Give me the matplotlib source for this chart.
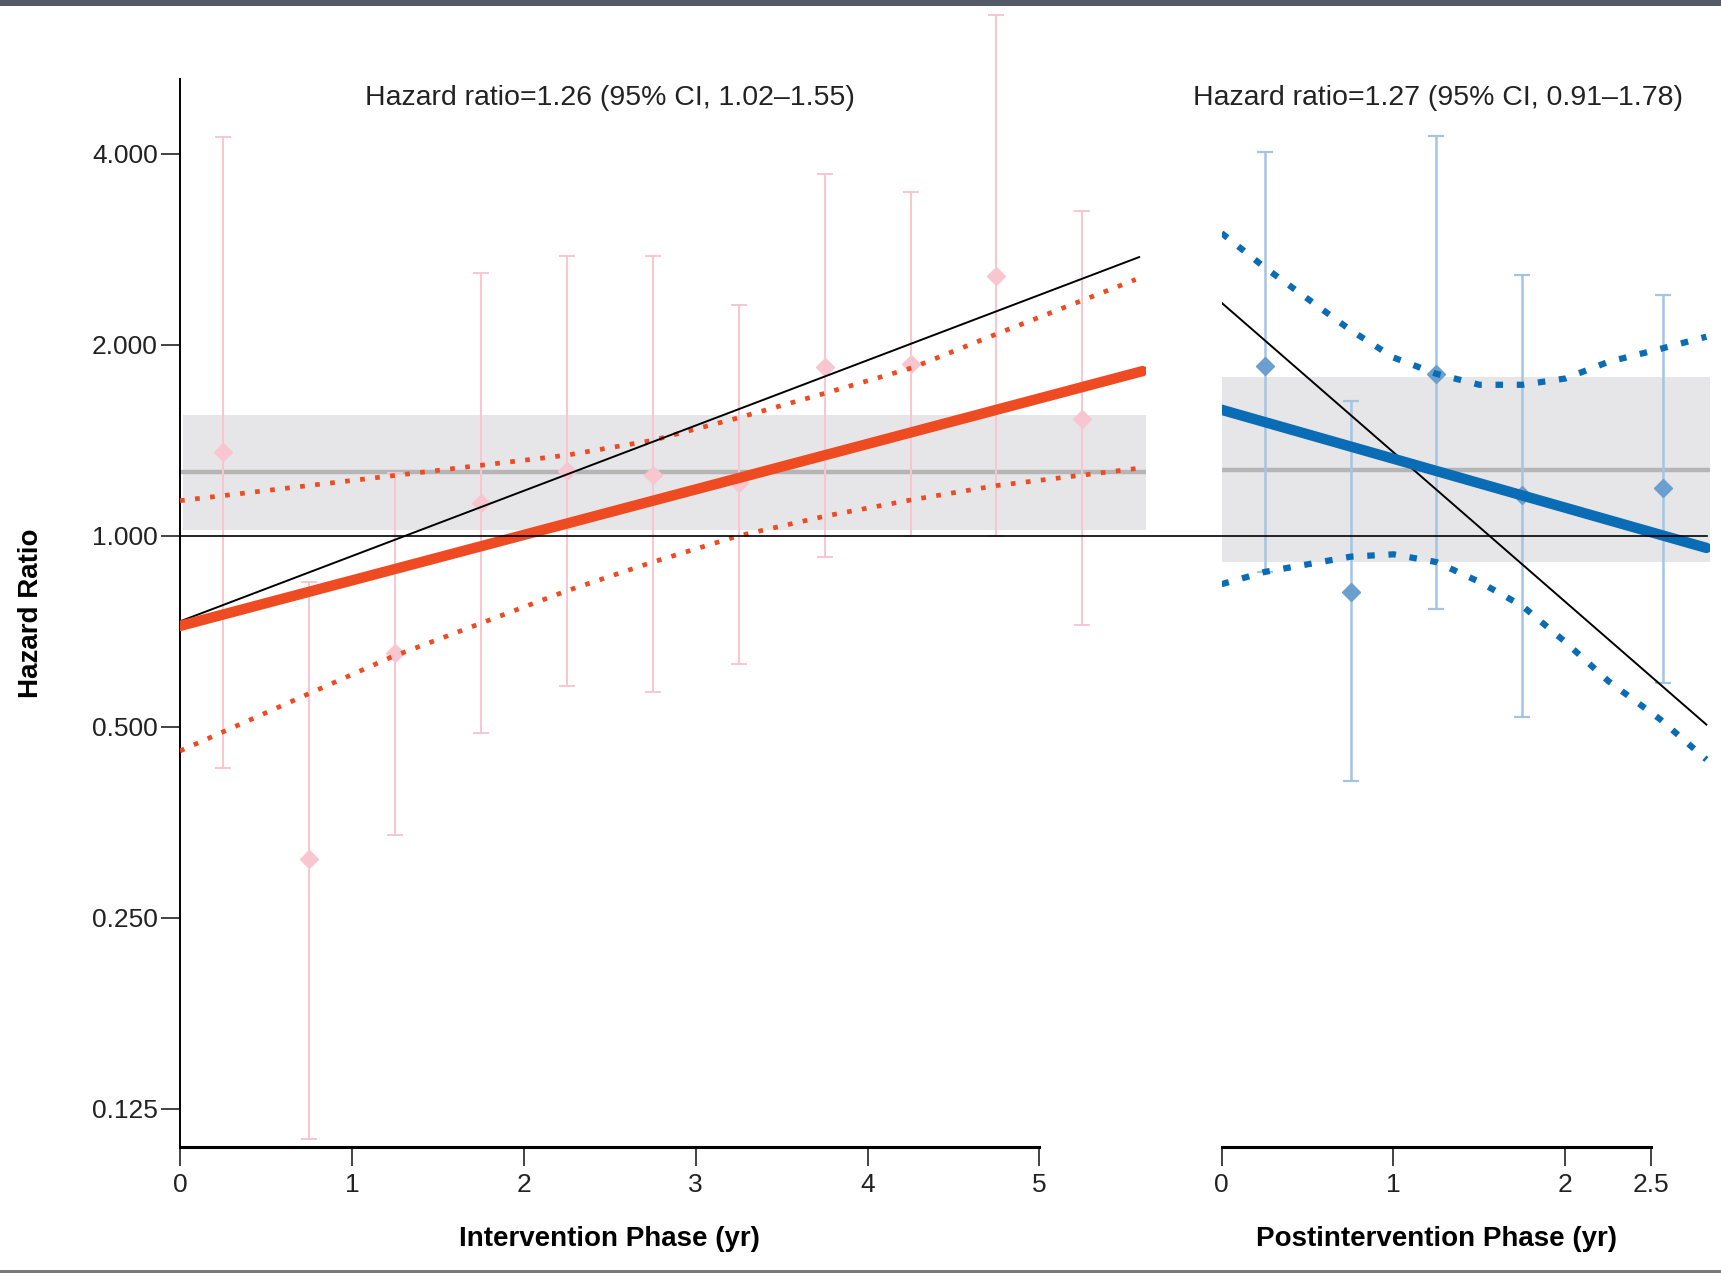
#!/usr/bin/env python3
import matplotlib
matplotlib.use("Agg")
import matplotlib.pyplot as plt
import matplotlib.transforms as mtransforms
from matplotlib.ticker import FixedLocator, NullLocator

plt.rcParams['font.family'] = ['Liberation Sans Narrow', 'Liberation Sans', 'DejaVu Sans']

# intervention phase (left panel)
int_t = [0.25, 0.75, 1.25, 1.75, 2.25, 2.75, 3.25, 3.75, 4.25, 4.75, 5.25]
int_hr = [1.357, 0.309, 0.653, 1.128, 1.264, 1.248, 1.211, 1.845, 1.864, 2.57, 1.53]
int_lo = [0.431, 0.112, 0.337, 0.489, 0.579, 0.567, 0.629, 0.926, 1.0, 1.0, 0.724]
int_hi = [4.25, 0.846, 1.255, 2.60, 2.76, 2.76, 2.31, 3.72, 3.48, 6.61, 3.25]
int_fit_t = [0.0, 5.60]
int_fit = [0.721, 1.818]
int_ci_t = [0.0, 1.23, 2.25, 2.75, 3.25, 3.76, 4.26, 4.75, 5.56]
int_ci_hi = [1.136, 1.243, 1.34, 1.414, 1.535, 1.68, 1.84, 2.08, 2.535]
int_ci_lo_t = [0.0, 1.23, 2.25, 2.75, 3.25, 3.76, 4.26, 4.75, 5.60]
int_ci_lo = [0.458, 0.644, 0.819, 0.909, 1.0, 1.075, 1.14, 1.2, 1.28]
int_black_t = [0.0, 5.58]
int_black = [0.733, 2.75]
int_hr_all, int_hr_ci = 1.26, (1.02, 1.55)

# postintervention phase (right panel)
post_t = [0.25, 0.75, 1.25, 1.75, 2.57]
post_hr = [1.85, 0.816, 1.80, 1.16, 1.19]
post_lo = [0.877, 0.41, 0.766, 0.518, 0.586]
post_hi = [4.02, 1.63, 4.26, 2.58, 2.40]
post_fit_t = [0.0, 2.82]
post_fit = [1.58, 0.957]
post_ci_t = [0.0, 0.25, 0.75, 1.0, 1.25, 1.5, 1.75, 2.0, 2.25, 2.55, 2.82]
post_ci_hi = [3.0, 2.65, 2.11, 1.91, 1.80, 1.73, 1.73, 1.77, 1.88, 1.97, 2.06]
post_ci_lo = [0.839, 0.877, 0.927, 0.935, 0.909, 0.846, 0.775, 0.68, 0.59, 0.514, 0.444]
post_black_t = [0.0, 2.82]
post_black = [2.33, 0.504]
post_hr_all, post_hr_ci = 1.27, (0.91, 1.78)

yticks = [0.125, 0.25, 0.5, 1.0, 2.0, 4.0]
ylabels = ['0.125', '0.250', '0.500', '1.000', '2.000', '4.000']

RED = '#ee4b22'
PINK = '#f8c6d0'
BLUE = '#0a6cb4'
LBLUE = '#a4c4e4'
BLUEPT = '#6a9fd0'
BAND = '#e6e6e8'
MIDGRAY = '#b5b5b5'

fig = plt.figure(figsize=(17.21, 12.73), dpi=100)
ax1 = fig.add_axes([0.1046, 0.0990, 0.5613, 0.839])
ax2 = fig.add_axes([0.7098, 0.0990, 0.2837, 0.839])

ylim = (0.1088, 5.25)
for ax in (ax1, ax2):
    ax.set_yscale('log', base=2)
    ax.set_ylim(*ylim)
    ax.spines['top'].set_visible(False)
    ax.spines['right'].set_visible(False)
    ax.spines['bottom'].set_linewidth(2.2)
    ax.tick_params(axis='x', length=14, width=1.2, labelsize=19, pad=5, colors='#222222')
    ax.patch.set_alpha(0)

ax1.set_xlim(0, 5.62)
ax2.set_xlim(0, 2.84)

# left panel
ax1.axhspan(int_hr_ci[0], int_hr_ci[1], xmin=0.003, color=BAND, zorder=0, lw=0)
ax1.axhline(int_hr_all, color=MIDGRAY, lw=3.2, zorder=1)
ax1.errorbar(int_t, int_hr, yerr=[[h - l for h, l in zip(int_hr, int_lo)],
                                  [u - h for h, u in zip(int_hr, int_hi)]],
             fmt='D', color=PINK, ecolor=PINK, elinewidth=1.4, capsize=6, capthick=1.4,
             markersize=9, zorder=2, clip_on=False)
ax1.plot(int_black_t, int_black, color='black', lw=1.4, zorder=4)
ax1.plot(int_ci_t, int_ci_hi, color=RED, lw=3.4, ls=(0, (1, 2.2)), zorder=3)
ax1.plot(int_ci_lo_t, int_ci_lo, color=RED, lw=3.4, ls=(0, (1, 2.2)), zorder=3)
ax1.plot(int_fit_t, int_fit, color=RED, lw=7.5, solid_capstyle='round', zorder=5)
ax1.text(2.5, 4.9, 'Hazard ratio=%.2f (95%% CI, %.2f\u2013%.2f)' % (int_hr_all, *int_hr_ci),
         ha='center', va='center', fontsize=20.5, color='#222222')

ax1.yaxis.set_major_locator(FixedLocator(yticks))
ax1.yaxis.set_minor_locator(NullLocator())
ax1.set_yticklabels(ylabels)
ax1.tick_params(axis='y', length=14, width=1.2, labelsize=19, pad=2, colors='#222222')
ax1.spines['left'].set_linewidth(1.4)
ax1.set_xticks([0, 1, 2, 3, 4, 5])
ax1.spines['bottom'].set_bounds(0, 5)
ax1.set_xlabel('Intervention Phase (yr)', fontsize=20, fontweight='bold')
ax1.xaxis.set_label_coords(2.5, -0.074, transform=ax1.get_xaxis_transform())
ax1.set_ylabel('Hazard Ratio', fontsize=20, fontweight='bold')
ax1.yaxis.set_label_coords(-0.141, 0.50)

# right panel
ax2.axhspan(post_hr_ci[0], post_hr_ci[1], color=BAND, zorder=0, lw=0)
ax2.axhline(post_hr_all, color=MIDGRAY, lw=3.2, zorder=1)
ax2.errorbar(post_t, post_hr, yerr=[[h - l for h, l in zip(post_hr, post_lo)],
                                    [u - h for h, u in zip(post_hr, post_hi)]],
             fmt='D', color=BLUEPT, ecolor=LBLUE, elinewidth=1.8, capsize=6, capthick=1.6,
             markersize=9, zorder=2, clip_on=False)
ax2.plot(post_black_t, post_black, color='black', lw=1.4, zorder=4)
ax2.plot(post_ci_t, post_ci_hi, color=BLUE, lw=4.5, ls=(0, (1.2, 2.2)), zorder=3)
ax2.plot(post_ci_t, post_ci_lo, color=BLUE, lw=4.5, ls=(0, (1.2, 2.2)), zorder=3)
ax2.plot(post_fit_t, post_fit, color=BLUE, lw=7.5, solid_capstyle='round', zorder=5)
ax2.text(1.26, 4.9, 'Hazard ratio=%.2f (95%% CI, %.2f\u2013%.2f)' % (post_hr_all, *post_hr_ci),
         ha='center', va='center', fontsize=20.5, color='#222222')

ax2.spines['left'].set_visible(False)
ax2.yaxis.set_major_locator(NullLocator())
ax2.yaxis.set_minor_locator(NullLocator())
ax2.set_xticks([0, 1, 2, 2.5])
ax2.set_xticklabels(['0', '1', '2', '2.5'])
ax2.spines['bottom'].set_bounds(0, 2.5)
ax2.set_xlabel('Postintervention Phase (yr)', fontsize=20, fontweight='bold')
ax2.xaxis.set_label_coords(1.25, -0.074, transform=ax2.get_xaxis_transform())

# reference line at 1.0 running across both panels
ref = mtransforms.blended_transform_factory(fig.transFigure, ax1.transData)
fig.add_artist(plt.Line2D([0.1046, 0.9918], [1.0, 1.0], transform=ref, color='black', lw=1.2, zorder=6))

# frame bits of the original page
fig.add_artist(plt.Rectangle((0, 0.9955), 1, 0.0045, transform=fig.transFigure, color='#545b67', lw=0))
fig.add_artist(plt.Rectangle((0, 0.0), 1, 0.0025, transform=fig.transFigure, color='#7a7a7a', lw=0))

fig.savefig('out.png', dpi=100)
